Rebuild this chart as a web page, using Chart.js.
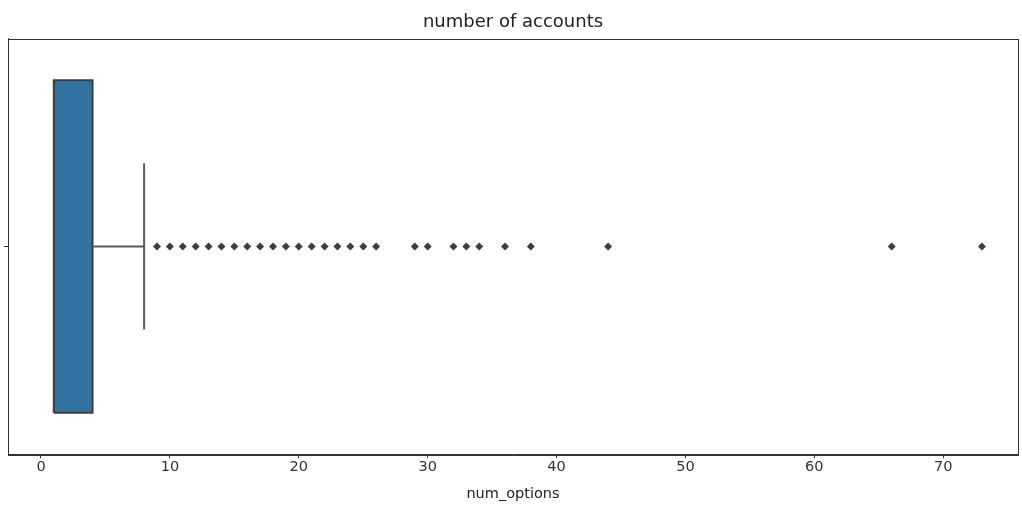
<!DOCTYPE html>
<html>
<head>
<meta charset="utf-8">
<script src="https://cdn.jsdelivr.net/npm/chart.js@4"></script>
<style>
  html, body { margin: 0; padding: 0; background: #fff; }
  #wrap { width: 1022px; height: 507px; }
</style>
</head>
<body>
<div id="wrap"><canvas id="chart"></canvas></div>
<script>
// box summary (num_options)
const boxStats = { whiskerLow: 1, q1: 1, median: 1, q3: 4, whiskerHigh: 8 };
const outliers = [9, 10, 11, 12, 13, 14, 15, 16, 17, 18, 19, 20, 21, 22, 23, 24, 25, 26,
                  29, 30, 32, 33, 34, 36, 38, 44, 66, 73];
const xTicks = [0, 10, 20, 30, 40, 50, 60, 70];

const BOX_HALF = 0.4;
const CAP_HALF = 0.2;
const EDGE = '#3f3f3f';
const LINE = '#5a5a5a';
const FONT = 'DejaVu Sans';

const seg = (x1, y1, x2, y2) => [{ x: x1, y: y1 }, { x: x2, y: y2 }];

// frame round the plot area, like matplotlib spines
const framePlugin = {
    id: 'frame',
    afterDraw(chart) {
        const a = chart.chartArea;
        const ctx = chart.ctx;
        ctx.save();
        ctx.strokeStyle = '#333';
        ctx.lineWidth = 1;
        ctx.strokeRect(Math.round(a.left) + 0.5, Math.round(a.top) + 0.5,
                       Math.round(a.right - a.left), Math.round(a.bottom - a.top));
        ctx.restore();
    }
};

const lineDs = (data, color, width, order) => ({
    type: 'line',
    data,
    borderColor: color,
    borderWidth: width,
    pointRadius: 0,
    fill: false,
    tension: 0,
    order: order || 0,
});

const s = boxStats;
new Chart(document.getElementById('chart'), {
    type: 'scatter',
    data: {
        datasets: [
            {
                type: 'line',
                data: seg(s.q1, BOX_HALF, s.q3, BOX_HALF),
                fill: { value: -BOX_HALF },
                backgroundColor: '#3274a1',
                borderWidth: 0,
                pointRadius: 0,
                order: 5,
            },
            lineDs([
                { x: s.q1, y: -BOX_HALF }, { x: s.q3, y: -BOX_HALF },
                { x: s.q3, y: BOX_HALF }, { x: s.q1, y: BOX_HALF },
                { x: s.q1, y: -BOX_HALF }
            ], EDGE, 2, 1),
            lineDs(seg(s.median, -BOX_HALF, s.median, BOX_HALF), EDGE, 2),
            lineDs(seg(s.whiskerLow, 0, s.q1, 0), LINE, 2),
            lineDs(seg(s.q3, 0, s.whiskerHigh, 0), LINE, 2),
            lineDs(seg(s.whiskerHigh, -CAP_HALF, s.whiskerHigh, CAP_HALF), LINE, 2),
            {
                type: 'scatter',
                data: outliers.map(v => ({ x: v, y: 0 })),
                pointStyle: 'rectRot',
                pointRadius: 4,
                backgroundColor: '#3d3d3d',
                borderColor: '#3d3d3d',
                borderWidth: 0,
                order: 0,
            }
        ]
    },
    options: {
        responsive: true,
        maintainAspectRatio: false,
        animation: false,
        layout: { padding: { left: 4, right: 0, top: 0, bottom: 4 } },
        plugins: {
            legend: { display: false },
            tooltip: { enabled: false },
            title: {
                display: true,
                text: 'number of accounts',
                color: '#222',
                font: { family: FONT, size: 18, weight: 'normal' },
                padding: { top: 12, bottom: 5 },
            }
        },
        scales: {
            x: {
                type: 'linear',
                min: -2.56,
                max: 75.8,
                afterBuildTicks: (axis) => { axis.ticks = xTicks.map(v => ({ value: v })); },
                ticks: {
                    color: '#333',
                    font: { family: FONT, size: 14.5 },
                    padding: 0,
                    maxRotation: 0,
                },
                grid: { drawOnChartArea: false, tickLength: 4, color: '#333' },
                border: { display: true, color: '#333' },
                title: {
                    display: true,
                    text: 'num_options',
                    color: '#222',
                    font: { family: FONT, size: 14.5 },
                    padding: { top: 10, bottom: 0 },
                }
            },
            y: {
                type: 'linear',
                min: -0.5,
                max: 0.5,
                afterBuildTicks: (axis) => { axis.ticks = [{ value: 0 }]; },
                ticks: { callback: () => '', padding: 0 },
                grid: { drawOnChartArea: false, tickLength: 4, color: '#333' },
                border: { display: true, color: '#333' },
            }
        }
    },
    plugins: [framePlugin]
});
</script>
</body>
</html>
